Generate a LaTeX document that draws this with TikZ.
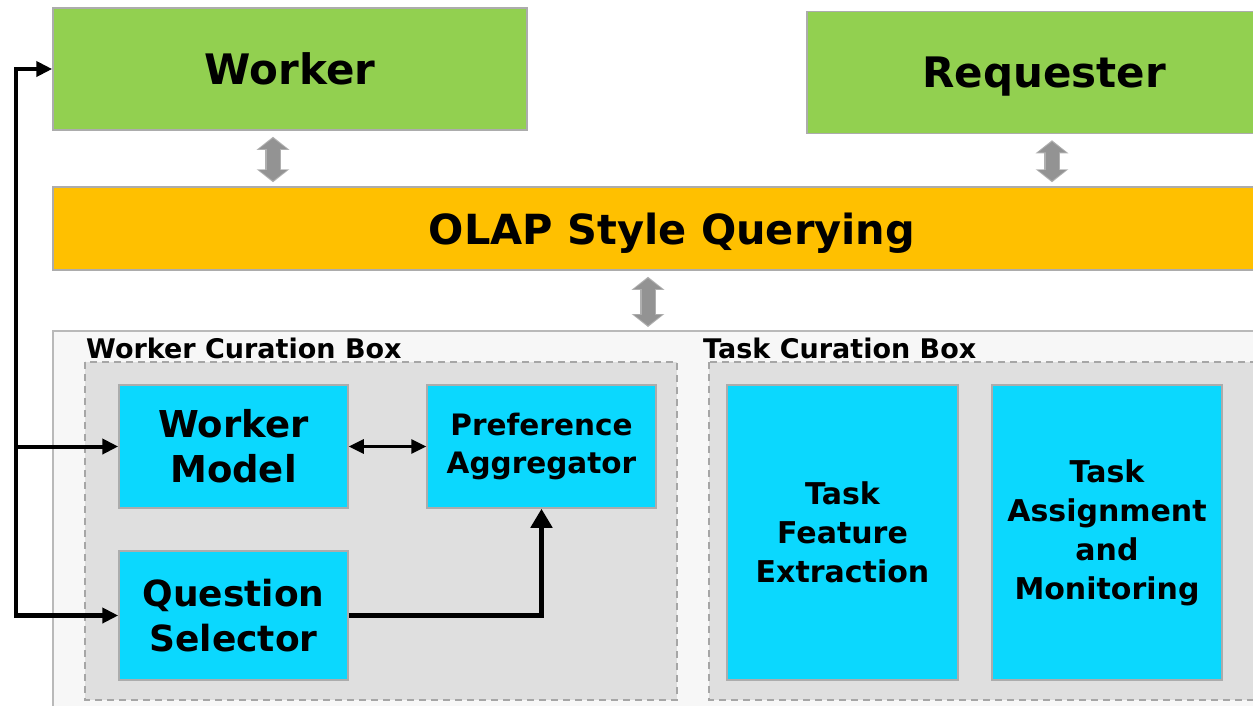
\documentclass[tikz,border=0pt]{standalone}
\usepackage{fontspec}
\setmainfont{DejaVu Sans}
\usetikzlibrary{arrows.meta}

\definecolor{boxgreen}{HTML}{92D050}
\definecolor{boxorange}{HTML}{FFC000}
\definecolor{boxcyan}{HTML}{0BD8FE}
\newcommand{\boxfont}[2]{\fontsize{#1}{#2}\selectfont\bfseries}

\begin{document}
\begin{tikzpicture}[x=1pt, y=-1pt,
  box/.style={draw=gray!65, line width=1.5pt, inner sep=0pt, align=center},
  topbox/.style={box, fill=boxgreen, minimum width=474pt, minimum height=122pt, font=\boxfont{42}{50}},
  cyanbox/.style={box, fill=boxcyan},
  curation/.style={gray!70, line width=1.3pt, dash pattern=on 7pt off 5pt, fill=gray!25},
  tip/.style={-{Triangle[length=#1, width=#1]}},
  updownout/.style={line width=16pt, gray!110!black!70, {Triangle[length=13pt, width=32pt]}-{Triangle[length=13pt, width=32pt]}, shorten <=6pt, shorten >=4pt},
  updownin/.style={line width=13pt, gray!85, {Triangle[length=10.5pt, width=27pt]}-{Triangle[length=10.5pt, width=27pt]}, shorten <=7.6pt, shorten >=5.6pt},
  ]

  \clip (0,0) rectangle (1253,705);

  % --- 1. top row ---
  \node[topbox] (worker) at (290,69) {Worker};
  \node[topbox, text depth=0pt] (requester) at (1044,72.5) {Requester};
  \node[box, fill=boxorange, minimum width=1238pt, minimum height=83pt, text depth=0pt, font=\boxfont{41.5}{50}] (olap) at (672,228.5) {OLAP Style Querying};

  % --- 2. curation boxes ---
  \draw[gray!55, line width=1.5pt, fill=gray!6] (53,331) rectangle (1291,730);
  \coordinate (frametop) at (0,331);
  \draw[curation] (85,362) rectangle (677,700);
  \draw[curation] (709,362) rectangle (1275,700);
  \node[anchor=base west, inner sep=0pt, font=\boxfont{27}{30}] (wclabel) at (86,358) {Worker Curation Box};
  \node[anchor=base west, inner sep=0pt, font=\boxfont{27}{30}] (tclabel) at (703,358) {Task Curation Box};

  \node[cyanbox, minimum width=229pt, minimum height=123pt, font=\boxfont{37}{45}] (wmodel) at (233.5,446.5) {Worker\\Model};
  \node[cyanbox, minimum width=229pt, minimum height=123pt, font=\boxfont{29.5}{38}] (pref) at (541.5,446.5) {Preference\\Aggregator};
  \node[cyanbox, minimum width=229pt, minimum height=129pt, font=\boxfont{36}{45}] (qsel) at (233.5,615.5) {Question\\Selector};
  \node[cyanbox, minimum width=231pt, minimum height=295pt, font=\boxfont{30}{39}] (tfe) at (842.5,532.5) {Task\\Feature\\Extraction};
  \node[cyanbox, minimum width=230pt, minimum height=295pt, font=\boxfont{30}{39}] (tam) at (1107,532.5) {Task\\Assignment\\and\\Monitoring};

  % --- 3. connectors ---
  \coordinate (colA) at (273,0);
  \coordinate (colB) at (1052,0);
  \coordinate (colC) at (648,0);
  \coordinate (bus) at (16,0);
  % gray block arrows: outline first, then fill
  \foreach \from/\to/\col in {worker/olap/colA, requester/olap/colB} {
    \draw[updownout] (\from.south -| \col) -- (\to.north -| \col);
    \draw[updownin] (\from.south -| \col) -- (\to.north -| \col);
  }
  \draw[updownout] (olap.south -| colC) -- (frametop -| colC);
  \draw[updownin] (olap.south -| colC) -- (frametop -| colC);

  % feedback bus on the left
  \draw[line width=4.5pt, {Triangle[length=16pt, width=15pt]}-{Triangle[length=16pt, width=15pt]}]
    (qsel.west) -- (qsel.west -| bus) -- (bus |- worker.west) -- (worker.west);
  \draw[line width=4pt, -{Triangle[length=16pt, width=15pt]}] (bus |- wmodel.west) -- (wmodel.west);
  \draw[line width=3pt, {Triangle[length=15pt, width=14pt]}-{Triangle[length=15pt, width=14pt]}] (wmodel) -- (pref);
  \draw[line width=5pt, -{Triangle[length=19pt, width=21pt]}] (qsel.east) -| (pref.south);
\end{tikzpicture}
\end{document}
